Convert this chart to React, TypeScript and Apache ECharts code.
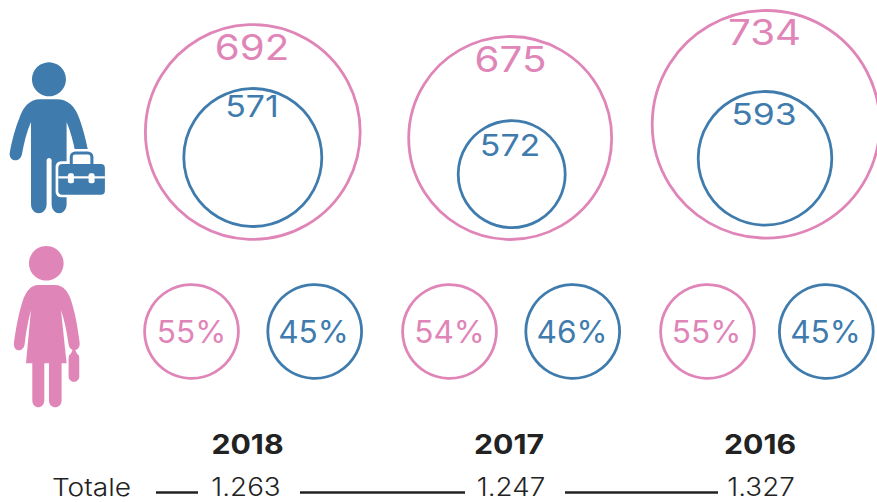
import React, { useEffect, useRef } from "react";
import * as echarts from "echarts";

const years = ["2018", "2017", "2016"];
const women = [692, 675, 734];
const men = [571, 572, 593];
const womenShare = [55, 54, 55];
const menShare = [45, 46, 45];
const totals = ["1.263", "1.247", "1.327"];
const totalLabel = "Totale";

const PINK = "#E085B8";
const BLUE = "#3F7CAD";
const DARK = "#222222";
const FONT = "Inter, sans-serif";

// layout (pixels of the 877x502 page)
const outerX = [252.8, 510.2, 766];
const outerY = [132, 138, 124.3];
const outerR = [107.4, 101.5, 113.8];
const innerX = [252.8, 511.7, 765];
const innerY = [157.5, 174.2, 158.3];
const innerR = [69, 53.5, 66.8];
const womenLabelX = [252, 510.5, 764.5];
const womenLabelY = [47, 59, 32];
const menLabelX = [252, 510, 764];
const menLabelY = [106, 145, 114];
const menLabelScale = [1.13, 1.13, 1.18];
const shareWomenX = [191.5, 449.5, 707.5];
const shareMenX = [314.7, 572.7, 826.3];
const shareWomenLabelX = [191.5, 449.5, 706.5];
const shareMenLabelX = [313.5, 572, 825.5];
const shareY = 331.5;
const shareLabelY = 332;
const shareR = 46.9;
const yearX = [247.5, 509, 760];
const yearY = 444;
const totalX = [246, 511, 761];
const totalY = 486.8;
const totalLabelY = 487.5;
const dashSegments = [[156, 198], [300, 465], [565, 718]];
const dashY = 492.5;

const manBody =
  "M120 148 L170 148 C205 148 225 170 238 205 C248 232 256 262 264 300 C268 322 232 330 226 306 C220 275 212 245 200 216 L200 462 C200 500 155 500 155 462 L155 332 C155 322 140 322 140 332 L140 462 C140 500 93 500 93 462 L93 216 C80 245 72 280 66 312 C60 342 22 335 30 304 C38 265 46 235 58 205 C70 170 90 148 120 148 Z";
const womanBody =
  "M115 150 L165 150 C190 150 205 170 214 198 C226 235 234 280 239 322 C241 338 232 345 226 345 L232 358 C236 358 238 364 238 372 L238 424 C238 446 206 446 206 424 L206 372 C206 364 208 358 212 358 L218 345 C210 342 206 335 205 322 C200 285 193 255 183 225 L200 385 L185 385 L185 496 C185 524 147 524 147 496 L147 385 L133 385 L133 496 C133 524 97 524 97 496 L97 385 L78 385 L93 225 C85 255 78 290 74 328 C70 354 38 352 42 322 C48 280 56 235 68 198 C78 170 92 150 115 150 Z";
const manShape = echarts.graphic.extendPath(manBody, {});
const womanShape = echarts.graphic.extendPath(womanBody, {});
echarts.graphic.registerShape("manBody", manShape);
echarts.graphic.registerShape("womanBody", womanShape);

type Txt = { x: number; y: number; text: string; size: number; sx: number; color: string; weight: number };
const texts: Txt[] = [
  ...women.map((v, i) => ({ x: womenLabelX[i], y: womenLabelY[i], text: String(v), size: 35, sx: 1.15, color: PINK, weight: 400 })),
  ...men.map((v, i) => ({ x: menLabelX[i], y: menLabelY[i], text: String(v), size: 30, sx: menLabelScale[i], color: BLUE, weight: 400 })),
  ...womenShare.map((v, i) => ({ x: shareWomenLabelX[i], y: shareLabelY, text: v + "%", size: 31, sx: 1.02, color: PINK, weight: 400 })),
  ...menShare.map((v, i) => ({ x: shareMenLabelX[i], y: shareLabelY, text: v + "%", size: 31, sx: 1.02, color: BLUE, weight: 400 })),
  ...years.map((v, i) => ({ x: yearX[i], y: yearY, text: v, size: 27, sx: 1.12, color: DARK, weight: 700 })),
  ...totals.map((v, i) => ({ x: totalX[i], y: totalY, text: v, size: 25, sx: 1.11, color: DARK, weight: 300 })),
  { x: 91.5, y: totalLabelY, text: totalLabel, size: 24, sx: 1.17, color: DARK, weight: 300 },
];

const ring = (xs: number[], ys: number[], rs: number[], color: string) => ({
  type: "scatter" as const,
  silent: true,
  data: xs.map((x, i) => [x, ys[i], rs[i]]),
  symbol: "circle",
  symbolSize: (d: number[]) => d[2] * 2,
  itemStyle: { color: "transparent", borderColor: color, borderWidth: 2.8, opacity: 1 },
});

const manIcon = () => ({
  type: "group",
  x: 0,
  y: 50,
  scaleX: 1 / 3,
  scaleY: 1 / 3,
  children: [
    { type: "circle", shape: { cx: 147, cy: 88, r: 51 }, style: { fill: BLUE } },
    { type: "manBody", style: { fill: BLUE } },
    { type: "rect", shape: { x: 214, y: 309, width: 62, height: 50, r: 12 }, style: { fill: "none", stroke: "#fff", lineWidth: 24 } },
    { type: "rect", shape: { x: 167, y: 334, width: 156, height: 108, r: 16 }, style: { fill: "#fff" } },
    { type: "rect", shape: { x: 214, y: 309, width: 62, height: 50, r: 12 }, style: { fill: "none", stroke: BLUE, lineWidth: 9 } },
    { type: "rect", shape: { x: 175, y: 342, width: 140, height: 93, r: 12 }, style: { fill: BLUE } },
    { type: "rect", shape: { x: 175, y: 379, width: 140, height: 7 }, style: { fill: "#fff" } },
    { type: "rect", shape: { x: 204, y: 370, width: 18, height: 30, r: 6 }, style: { fill: "#fff" } },
    { type: "rect", shape: { x: 266, y: 370, width: 18, height: 30, r: 6 }, style: { fill: "#fff" } },
  ],
});
const womanIcon = () => ({
  type: "group",
  x: 0,
  y: 235,
  scaleX: 1 / 3,
  scaleY: 1 / 3,
  children: [
    { type: "circle", shape: { cx: 139, cy: 85, r: 52 }, style: { fill: PINK } },
    { type: "womanBody", style: { fill: PINK } },
  ],
});

export default function App() {
  const ref = useRef<HTMLDivElement>(null);
  useEffect(() => {
    const chart = echarts.init(ref.current!, undefined, { renderer: "svg" });
    chart.setOption({
      animation: false,
      backgroundColor: "#ffffff",
      grid: { left: 0, right: 0, top: 0, bottom: 0 },
      xAxis: { type: "value", min: 0, max: 877, show: false },
      yAxis: { type: "value", min: 0, max: 502, inverse: true, show: false },
      graphic: { elements: [manIcon(), womanIcon()] },
      series: [
        ring(outerX, outerY, outerR, PINK),
        ring(innerX, innerY, innerR, BLUE),
        ring(shareWomenX, shareWomenX.map(() => shareY), shareWomenX.map(() => shareR), PINK),
        ring(shareMenX, shareMenX.map(() => shareY), shareMenX.map(() => shareR), BLUE),
        ...dashSegments.map((s) => ({
          type: "line" as const,
          silent: true,
          symbol: "none",
          data: s.map((x) => [x, dashY]),
          lineStyle: { color: DARK, width: 2.5 },
        })),
        {
          type: "custom" as const,
          silent: true,
          clip: false,
          data: texts.map((t) => [t.x, t.y]),
          renderItem: (p: any, api: any) => {
            const t = texts[p.dataIndex];
            const c = api.coord([api.value(0), api.value(1)]);
            return {
              type: "text",
              x: c[0],
              y: c[1],
              scaleX: t.sx,
              style: {
                text: t.text,
                fill: t.color,
                font: `${t.weight} ${t.size}px ${FONT}`,
                align: "center",
                verticalAlign: "middle",
              },
            };
          },
        },
      ],
    });
    return () => chart.dispose();
  }, []);
  return <div ref={ref} style={{ position: "fixed", left: 0, top: 0, width: 877, height: 502 }} />;
}
